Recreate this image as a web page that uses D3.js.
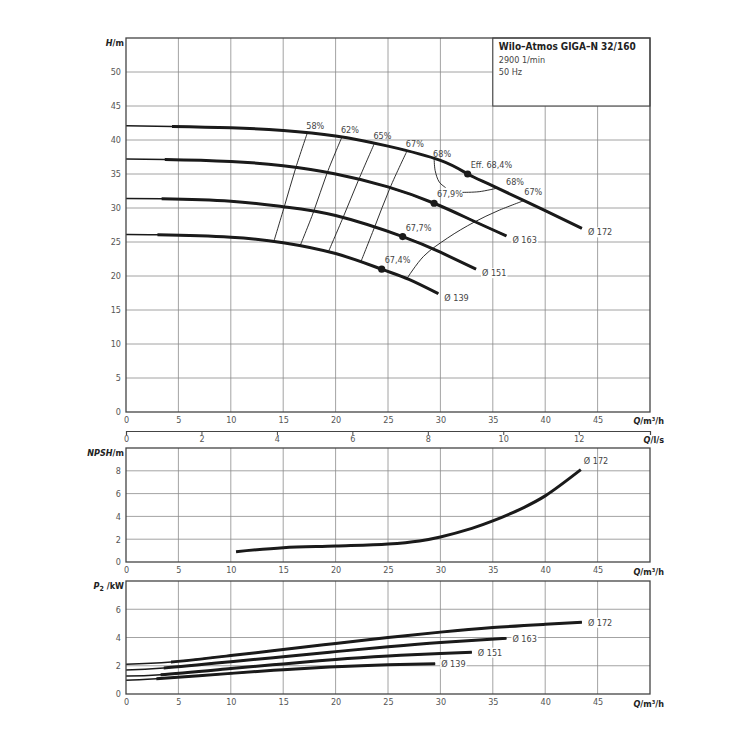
<!DOCTYPE html>
<html>
<head>
<meta charset="utf-8">
<script src="https://cdn.jsdelivr.net/npm/d3@7"></script>
<style>
  body { margin: 0; background: #fff; }
  text { font-family: "DejaVu Sans Condensed", "Liberation Sans Narrow", "Roboto", sans-serif; }
  .tick text { fill: #555; font-size: 9px; }
  .lbl { fill: #444; font-size: 9px; }
  .axt { fill: #222; font-size: 9px; font-weight: bold; }
</style>
</head>
<body>
<svg id="chart" width="750" height="750"></svg>
<script>
// ---- data ----
const qTicks = [0, 5, 10, 15, 20, 25, 30, 35, 40, 45];
const hTicks = [0, 5, 10, 15, 20, 25, 30, 35, 40, 45, 50];
const lsTicks = [0, 2, 4, 6, 8, 10, 12];
const npshTicks = [0, 2, 4, 6, 8];
const p2Ticks = [0, 2, 4, 6];
const diameters = ["Ø 172", "Ø 163", "Ø 151", "Ø 139"];

// Q-H curves [Q m3/h, H m]
const head172 = [[0, 42.1], [4.4, 42.0], [10, 41.8], [15, 41.4], [20, 40.6], [25, 39.1], [30, 37.0], [32.6, 35.0], [35, 33.25], [40, 29.6], [43.5, 27.0]];
const head163 = [[0, 37.2], [3.7, 37.15], [10, 36.85], [15, 36.2], [20, 35.0], [25, 33.1], [29.4, 30.7], [33, 28.2], [36.3, 25.9]];
const head151 = [[0, 31.4], [3.4, 31.35], [10, 31.0], [15, 30.2], [20, 28.9], [26.4, 25.8], [30, 23.5], [33.4, 21.0]];
const head139 = [[0, 26.1], [3.0, 26.05], [10, 25.7], [15, 24.9], [20, 23.3], [24.4, 21.0], [27, 19.5], [29.8, 17.4]];
const headThickFrom = [4.4, 3.7, 3.4, 3.0];

// best efficiency points
const bepPoints = [[32.6, 35.0], [29.4, 30.7], [26.4, 25.8], [24.4, 21.0]];
const bepLabels = ["Eff. 68,4%", "67,9%", "67,7%", "67,4%"];

// iso-efficiency lines
const iso58 = [[17.3, 41.03], [16.2, 35.91], [15.1, 30.17], [14.1, 25.04]];
const iso62 = [[20.6, 40.42], [19.2, 35.19], [17.9, 29.45], [16.6, 24.39]];
const iso65 = [[23.7, 39.49], [22.2, 34.16], [20.7, 28.56], [19.3, 23.52]];
const iso67 = [[26.8, 38.34], [25.2, 32.99], [23.7, 27.11], [22.4, 22.04]];
const iso68a = [[29.4, 37.4], [29.5, 35.5], [29.9, 33.8], [30.5, 33.0]];
const iso68b = [[32.1, 32.3], [33.7, 32.4], [35.5, 32.95]];
const iso67r = [[38.0, 31.1], [35.5, 29.6], [33.2, 27.9], [30.7, 25.6], [28.4, 22.9], [26.8, 19.6]];
const isoLeft = [iso58, iso62, iso65, iso67];
const isoLeftLabels = ["58%", "62%", "65%", "67%"];

// NPSH [Q, m]
const npsh172 = [[10.5, 0.9], [15, 1.25], [20, 1.4], [25, 1.58], [28, 1.85], [30, 2.2], [33, 2.95], [35, 3.6], [38, 4.8], [40, 5.8], [43.4, 8.1]];

// P2 [Q, kW]
const p172 = [[0, 2.1], [4.3, 2.26], [10, 2.72], [15, 3.15], [20, 3.58], [25, 4.0], [30, 4.38], [35, 4.7], [40, 4.93], [43.5, 5.08]];
const p163 = [[0, 1.7], [3.6, 1.84], [10, 2.28], [15, 2.64], [20, 3.0], [25, 3.34], [30, 3.65], [36.3, 3.95]];
const p151 = [[0, 1.27], [3.3, 1.36], [10, 1.8], [15, 2.13], [20, 2.45], [25, 2.69], [30, 2.87], [33.0, 2.96]];
const p139 = [[0, 0.97], [2.9, 1.08], [10, 1.46], [15, 1.72], [20, 1.93], [25, 2.07], [29.5, 2.15]];
const pThickFrom = [4.3, 3.6, 3.3, 2.9];

// ---- layout ----
const svg = d3.select("#chart");
const defs = svg.append("defs");
const left = 126, right = 650;
const x = d3.scaleLinear().domain([0, 50]).range([left, right]);
const xLs = d3.scaleLinear().domain([0, 50 / 3.6]).range([left, right]);
const yH = d3.scaleLinear().domain([0, 55]).range([412, 38]);
const yN = d3.scaleLinear().domain([0, 10]).range([562, 448]);
const yP = d3.scaleLinear().domain([0, 8]).range([694, 581]);

const gridColor = "#8c8c8c", frameColor = "#444", ink = "#1a1a1a";
let clipId = 0;

function panel(yScale, yTicks) {
    const g = svg.append("g");
    const [y0, y1] = yScale.range();
    g.selectAll(".vg").data(qTicks.filter(d => d > 0)).join("line")
        .attr("x1", d => x(d)).attr("x2", d => x(d))
        .attr("y1", y0).attr("y2", y1)
        .attr("stroke", gridColor).attr("stroke-width", 0.8);
    g.selectAll(".hg").data(yTicks.filter(d => d > 0)).join("line")
        .attr("x1", left).attr("x2", right)
        .attr("y1", d => yScale(d)).attr("y2", d => yScale(d))
        .attr("stroke", gridColor).attr("stroke-width", 0.8);

    const xa = g.append("g").attr("transform", `translate(0,${y0})`)
        .call(d3.axisBottom(x).tickValues(qTicks).tickSize(0).tickPadding(5));
    xa.select(".domain").remove();
    const ya = g.append("g").attr("transform", `translate(${left},0)`)
        .call(d3.axisLeft(yScale).tickValues(yTicks).tickSize(0).tickPadding(5));
    ya.select(".domain").remove();
    return g;
}

function frame(yScale) {
    const [y0, y1] = yScale.range();
    svg.append("rect").attr("x", left).attr("y", y1)
        .attr("width", right - left).attr("height", y0 - y1)
        .attr("fill", "none").attr("stroke", frameColor).attr("stroke-width", 1.3);
}

function curve(pts, yScale, w, kind) {
    const gen = d3.line().x(d => x(d[0])).y(d => yScale(d[1]))
        .curve(kind || d3.curveNatural);
    return svg.append("path").datum(pts).attr("d", gen)
        .attr("fill", "none").attr("stroke", ink).attr("stroke-width", w)
        .attr("stroke-linecap", "butt");
}

// thin line over the whole range, heavy line from qFrom on
function duty(pts, yScale, qFrom) {
    curve(pts, yScale, 1.5);
    const id = "clip" + (clipId++);
    const [y0, y1] = yScale.range();
    defs.append("clipPath").attr("id", id).append("rect")
        .attr("x", x(qFrom)).attr("y", y1 - 10)
        .attr("width", right - x(qFrom)).attr("height", y0 - y1 + 20);
    curve(pts, yScale, 3).attr("clip-path", `url(#${id})`);
}

function label(txt, px, py, bg) {
    const t = svg.append("text").attr("class", "lbl").attr("x", px).attr("y", py).text(txt);
    if (bg) {
        const b = t.node().getBBox();
        svg.insert("rect", () => t.node()).attr("x", b.x - 1).attr("y", b.y)
            .attr("width", b.width + 2).attr("height", b.height).attr("fill", "#fff");
    }
    return t;
}

function axisTitle(parts, px, py, anchor) {
    const t = svg.append("text").attr("class", "axt").attr("x", px).attr("y", py)
        .attr("text-anchor", anchor || "end");
    parts.forEach(p => {
        const s = t.append("tspan").text(p.t);
        if (p.i) s.attr("font-style", "italic");
        if (p.sub) s.attr("font-size", "7px").attr("dy", 2);
        if (p.up) s.attr("dy", -2);
    });
}

// ---- Q-H panel ----
panel(yH, hTicks);

// title box over the top right grid cells
svg.append("rect").attr("x", x(35)).attr("y", yH(55))
    .attr("width", x(50) - x(35)).attr("height", yH(45) - yH(55))
    .attr("fill", "#fff").attr("stroke", frameColor).attr("stroke-width", 1.1);
svg.append("text").attr("x", x(35) + 6).attr("y", yH(55) + 12)
    .attr("font-size", "10px").attr("font-weight", "bold").attr("fill", "#222")
    .text("Wilo–Atmos GIGA–N 32/160");
svg.append("text").attr("class", "lbl").attr("x", x(35) + 6).attr("y", yH(55) + 25)
    .attr("font-size", "8.5px").text("2900 1/min");
svg.append("text").attr("class", "lbl").attr("x", x(35) + 6).attr("y", yH(55) + 37)
    .attr("font-size", "8.5px").text("50 Hz");

// iso-efficiency lines
const isoKind = d3.curveCatmullRom.alpha(0.5);
isoLeft.forEach((pts, i) => {
    curve(pts, yH, 0.9, isoKind);
    label(isoLeftLabels[i], x(pts[0][0]) - 1, yH(pts[0][1]) - 4);
});
curve(iso68a, yH, 0.9, isoKind);
curve(iso68b, yH, 0.9, isoKind);
curve(iso67r, yH, 0.9, isoKind);
label("68%", x(iso68a[0][0]) - 1, yH(iso68a[0][1]) - 1);
label("68%", x(iso68b[iso68b.length - 1][0]) + 8, yH(iso68b[iso68b.length - 1][1]) - 3);
label("67%", x(iso67r[0][0]), yH(iso67r[0][1]) - 6);

const heads = [head172, head163, head151, head139];
heads.forEach((pts, i) => {
    duty(pts, yH, headThickFrom[i]);
    const end = pts[pts.length - 1];
    label(diameters[i], x(end[0]) + 6, yH(end[1]) + 7, true);
});

svg.selectAll(".bep").data(bepPoints).join("circle")
    .attr("cx", d => x(d[0])).attr("cy", d => yH(d[1])).attr("r", 3.6).attr("fill", ink);
bepPoints.forEach((d, i) => label(bepLabels[i], x(d[0]) + 3, yH(d[1]) - 6));

frame(yH);
axisTitle([{ t: "H", i: true }, { t: "/m" }], left - 2, yH(55) + 8);
axisTitle([{ t: "Q", i: true }, { t: "/m³/h" }], 664, 424);

// Q in l/s
const lsAxis = svg.append("g").attr("transform", "translate(0,431)")
    .call(d3.axisBottom(xLs).tickValues(lsTicks).tickSize(4).tickPadding(1));
lsAxis.select(".domain").attr("stroke", frameColor).attr("stroke-width", 1.2);
lsAxis.selectAll(".tick line").attr("stroke", frameColor);
axisTitle([{ t: "Q", i: true }, { t: "/l/s" }], 664, 443);

// ---- NPSH panel ----
panel(yN, npshTicks);
curve(npsh172, yN, 3, d3.curveCatmullRom.alpha(0.5));
const nEnd = npsh172[npsh172.length - 1];
label(diameters[0], x(nEnd[0]) + 3, yN(nEnd[1]) - 6);
frame(yN);
axisTitle([{ t: "NPSH", i: true }, { t: "/m" }], left - 2, yN(10) + 8);
axisTitle([{ t: "Q", i: true }, { t: "/m³/h" }], 664, 575);

// ---- P2 panel ----
panel(yP, p2Ticks);
const powers = [p172, p163, p151, p139];
powers.forEach((pts, i) => {
    duty(pts, yP, pThickFrom[i]);
    const end = pts[pts.length - 1];
    label(diameters[i], x(end[0]) + 6, yP(end[1]) + 3.5, true);
});
frame(yP);
axisTitle([{ t: "P", i: true }, { t: "2", sub: true }, { t: " /kW", up: true }], left - 2, yP(8) + 8);
axisTitle([{ t: "Q", i: true }, { t: "/m³/h" }], 664, 707);
</script>
</body>
</html>
